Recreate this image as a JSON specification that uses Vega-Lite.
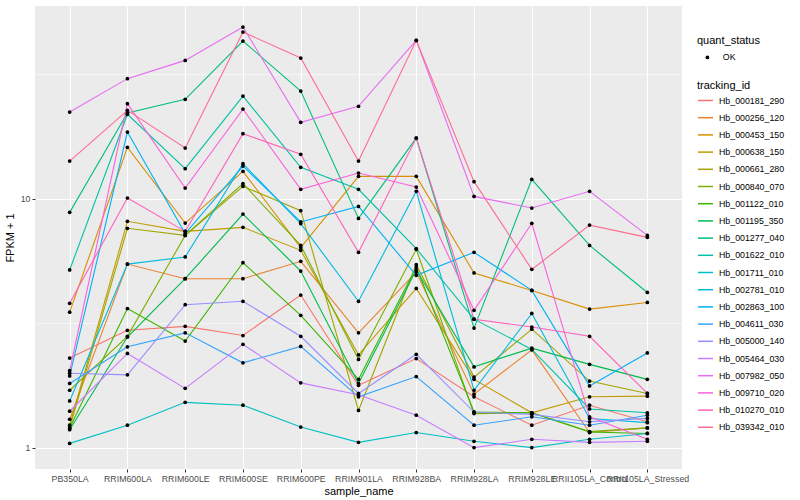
{
  "$schema": "https://vega.github.io/schema/vega-lite/v6.json",
  "width": 647,
  "height": 463,
  "autosize": {"type": "none"},
  "padding": {"left": 35, "top": 6, "right": 118, "bottom": 31},
  "background": "white",
  "config": {
    "font": "Liberation Sans",
    "view": {"fill": "#EBEBEB", "stroke": null},
    "axis": {"domain": false, "gridColor": "#FFFFFF", "labelColor": "#4D4D4D", "labelFontSize": 8.8, "tickColor": "#333333", "tickSize": 3, "titleFontSize": 11, "titleFontWeight": "normal", "titleColor": "#000000"},
    "legend": {"titleFontSize": 11, "titleFontWeight": "normal", "labelFontSize": 8.8, "labelColor": "#000000", "padding": 0}
  },
  "data": {
    "values": [
      {"tracking_id":"Hb_000181_290","sample_name":"PB350LA","fpkm":2.29,"quant_status":"OK"},
      {"tracking_id":"Hb_000181_290","sample_name":"RRIM600LA","fpkm":2.96,"quant_status":"OK"},
      {"tracking_id":"Hb_000181_290","sample_name":"RRIM600LE","fpkm":3.07,"quant_status":"OK"},
      {"tracking_id":"Hb_000181_290","sample_name":"RRIM600SE","fpkm":2.82,"quant_status":"OK"},
      {"tracking_id":"Hb_000181_290","sample_name":"RRIM600PE","fpkm":4.10,"quant_status":"OK"},
      {"tracking_id":"Hb_000181_290","sample_name":"RRIM901LA","fpkm":1.78,"quant_status":"OK"},
      {"tracking_id":"Hb_000181_290","sample_name":"RRIM928BA","fpkm":2.28,"quant_status":"OK"},
      {"tracking_id":"Hb_000181_290","sample_name":"RRIM928LA","fpkm":1.60,"quant_status":"OK"},
      {"tracking_id":"Hb_000181_290","sample_name":"RRIM928LE","fpkm":1.23,"quant_status":"OK"},
      {"tracking_id":"Hb_000181_290","sample_name":"RRII105LA_Control","fpkm":1.48,"quant_status":"OK"},
      {"tracking_id":"Hb_000181_290","sample_name":"RRII105LA_Stressed","fpkm":1.27,"quant_status":"OK"},
      {"tracking_id":"Hb_000256_120","sample_name":"PB350LA","fpkm":1.30,"quant_status":"OK"},
      {"tracking_id":"Hb_000256_120","sample_name":"RRIM600LA","fpkm":5.46,"quant_status":"OK"},
      {"tracking_id":"Hb_000256_120","sample_name":"RRIM600LE","fpkm":4.77,"quant_status":"OK"},
      {"tracking_id":"Hb_000256_120","sample_name":"RRIM600SE","fpkm":4.77,"quant_status":"OK"},
      {"tracking_id":"Hb_000256_120","sample_name":"RRIM600PE","fpkm":5.60,"quant_status":"OK"},
      {"tracking_id":"Hb_000256_120","sample_name":"RRIM901LA","fpkm":2.89,"quant_status":"OK"},
      {"tracking_id":"Hb_000256_120","sample_name":"RRIM928BA","fpkm":5.07,"quant_status":"OK"},
      {"tracking_id":"Hb_000256_120","sample_name":"RRIM928LA","fpkm":1.64,"quant_status":"OK"},
      {"tracking_id":"Hb_000256_120","sample_name":"RRIM928LE","fpkm":2.47,"quant_status":"OK"},
      {"tracking_id":"Hb_000256_120","sample_name":"RRII105LA_Control","fpkm":1.15,"quant_status":"OK"},
      {"tracking_id":"Hb_000256_120","sample_name":"RRII105LA_Stressed","fpkm":1.20,"quant_status":"OK"},
      {"tracking_id":"Hb_000453_150","sample_name":"PB350LA","fpkm":3.50,"quant_status":"OK"},
      {"tracking_id":"Hb_000453_150","sample_name":"RRIM600LA","fpkm":16.07,"quant_status":"OK"},
      {"tracking_id":"Hb_000453_150","sample_name":"RRIM600LE","fpkm":7.98,"quant_status":"OK"},
      {"tracking_id":"Hb_000453_150","sample_name":"RRIM600SE","fpkm":12.87,"quant_status":"OK"},
      {"tracking_id":"Hb_000453_150","sample_name":"RRIM600PE","fpkm":6.36,"quant_status":"OK"},
      {"tracking_id":"Hb_000453_150","sample_name":"RRIM901LA","fpkm":12.29,"quant_status":"OK"},
      {"tracking_id":"Hb_000453_150","sample_name":"RRIM928BA","fpkm":12.29,"quant_status":"OK"},
      {"tracking_id":"Hb_000453_150","sample_name":"RRIM928LA","fpkm":5.03,"quant_status":"OK"},
      {"tracking_id":"Hb_000453_150","sample_name":"RRIM928LE","fpkm":4.28,"quant_status":"OK"},
      {"tracking_id":"Hb_000453_150","sample_name":"RRII105LA_Control","fpkm":3.60,"quant_status":"OK"},
      {"tracking_id":"Hb_000453_150","sample_name":"RRII105LA_Stressed","fpkm":3.83,"quant_status":"OK"},
      {"tracking_id":"Hb_000638_150","sample_name":"PB350LA","fpkm":1.23,"quant_status":"OK"},
      {"tracking_id":"Hb_000638_150","sample_name":"RRIM600LA","fpkm":8.11,"quant_status":"OK"},
      {"tracking_id":"Hb_000638_150","sample_name":"RRIM600LE","fpkm":7.39,"quant_status":"OK"},
      {"tracking_id":"Hb_000638_150","sample_name":"RRIM600SE","fpkm":7.67,"quant_status":"OK"},
      {"tracking_id":"Hb_000638_150","sample_name":"RRIM600PE","fpkm":6.20,"quant_status":"OK"},
      {"tracking_id":"Hb_000638_150","sample_name":"RRIM901LA","fpkm":2.36,"quant_status":"OK"},
      {"tracking_id":"Hb_000638_150","sample_name":"RRIM928BA","fpkm":4.36,"quant_status":"OK"},
      {"tracking_id":"Hb_000638_150","sample_name":"RRIM928LA","fpkm":1.88,"quant_status":"OK"},
      {"tracking_id":"Hb_000638_150","sample_name":"RRIM928LE","fpkm":1.38,"quant_status":"OK"},
      {"tracking_id":"Hb_000638_150","sample_name":"RRII105LA_Control","fpkm":1.60,"quant_status":"OK"},
      {"tracking_id":"Hb_000638_150","sample_name":"RRII105LA_Stressed","fpkm":1.61,"quant_status":"OK"},
      {"tracking_id":"Hb_000661_280","sample_name":"PB350LA","fpkm":1.20,"quant_status":"OK"},
      {"tracking_id":"Hb_000661_280","sample_name":"RRIM600LA","fpkm":7.60,"quant_status":"OK"},
      {"tracking_id":"Hb_000661_280","sample_name":"RRIM600LE","fpkm":7.12,"quant_status":"OK"},
      {"tracking_id":"Hb_000661_280","sample_name":"RRIM600SE","fpkm":11.21,"quant_status":"OK"},
      {"tracking_id":"Hb_000661_280","sample_name":"RRIM600PE","fpkm":8.95,"quant_status":"OK"},
      {"tracking_id":"Hb_000661_280","sample_name":"RRIM901LA","fpkm":1.41,"quant_status":"OK"},
      {"tracking_id":"Hb_000661_280","sample_name":"RRIM928BA","fpkm":5.43,"quant_status":"OK"},
      {"tracking_id":"Hb_000661_280","sample_name":"RRIM928LA","fpkm":1.92,"quant_status":"OK"},
      {"tracking_id":"Hb_000661_280","sample_name":"RRIM928LE","fpkm":2.99,"quant_status":"OK"},
      {"tracking_id":"Hb_000661_280","sample_name":"RRII105LA_Control","fpkm":1.85,"quant_status":"OK"},
      {"tracking_id":"Hb_000661_280","sample_name":"RRII105LA_Stressed","fpkm":1.65,"quant_status":"OK"},
      {"tracking_id":"Hb_000840_070","sample_name":"PB350LA","fpkm":1.70,"quant_status":"OK"},
      {"tracking_id":"Hb_000840_070","sample_name":"RRIM600LA","fpkm":2.80,"quant_status":"OK"},
      {"tracking_id":"Hb_000840_070","sample_name":"RRIM600LE","fpkm":7.12,"quant_status":"OK"},
      {"tracking_id":"Hb_000840_070","sample_name":"RRIM600SE","fpkm":11.49,"quant_status":"OK"},
      {"tracking_id":"Hb_000840_070","sample_name":"RRIM600PE","fpkm":6.49,"quant_status":"OK"},
      {"tracking_id":"Hb_000840_070","sample_name":"RRIM901LA","fpkm":2.26,"quant_status":"OK"},
      {"tracking_id":"Hb_000840_070","sample_name":"RRIM928BA","fpkm":6.26,"quant_status":"OK"},
      {"tracking_id":"Hb_000840_070","sample_name":"RRIM928LA","fpkm":1.37,"quant_status":"OK"},
      {"tracking_id":"Hb_000840_070","sample_name":"RRIM928LE","fpkm":1.38,"quant_status":"OK"},
      {"tracking_id":"Hb_000840_070","sample_name":"RRII105LA_Control","fpkm":1.16,"quant_status":"OK"},
      {"tracking_id":"Hb_000840_070","sample_name":"RRII105LA_Stressed","fpkm":1.20,"quant_status":"OK"},
      {"tracking_id":"Hb_001122_010","sample_name":"PB350LA","fpkm":1.20,"quant_status":"OK"},
      {"tracking_id":"Hb_001122_010","sample_name":"RRIM600LA","fpkm":3.62,"quant_status":"OK"},
      {"tracking_id":"Hb_001122_010","sample_name":"RRIM600LE","fpkm":2.68,"quant_status":"OK"},
      {"tracking_id":"Hb_001122_010","sample_name":"RRIM600SE","fpkm":5.53,"quant_status":"OK"},
      {"tracking_id":"Hb_001122_010","sample_name":"RRIM600PE","fpkm":3.40,"quant_status":"OK"},
      {"tracking_id":"Hb_001122_010","sample_name":"RRIM901LA","fpkm":1.88,"quant_status":"OK"},
      {"tracking_id":"Hb_001122_010","sample_name":"RRIM928BA","fpkm":5.31,"quant_status":"OK"},
      {"tracking_id":"Hb_001122_010","sample_name":"RRIM928LA","fpkm":1.39,"quant_status":"OK"},
      {"tracking_id":"Hb_001122_010","sample_name":"RRIM928LE","fpkm":1.38,"quant_status":"OK"},
      {"tracking_id":"Hb_001122_010","sample_name":"RRII105LA_Control","fpkm":1.155,"quant_status":"OK"},
      {"tracking_id":"Hb_001122_010","sample_name":"RRII105LA_Stressed","fpkm":1.14,"quant_status":"OK"},
      {"tracking_id":"Hb_001195_350","sample_name":"PB350LA","fpkm":1.18,"quant_status":"OK"},
      {"tracking_id":"Hb_001195_350","sample_name":"RRIM600LA","fpkm":2.78,"quant_status":"OK"},
      {"tracking_id":"Hb_001195_350","sample_name":"RRIM600LE","fpkm":4.77,"quant_status":"OK"},
      {"tracking_id":"Hb_001195_350","sample_name":"RRIM600SE","fpkm":8.67,"quant_status":"OK"},
      {"tracking_id":"Hb_001195_350","sample_name":"RRIM600PE","fpkm":5.12,"quant_status":"OK"},
      {"tracking_id":"Hb_001195_350","sample_name":"RRIM901LA","fpkm":1.81,"quant_status":"OK"},
      {"tracking_id":"Hb_001195_350","sample_name":"RRIM928BA","fpkm":5.18,"quant_status":"OK"},
      {"tracking_id":"Hb_001195_350","sample_name":"RRIM928LA","fpkm":2.11,"quant_status":"OK"},
      {"tracking_id":"Hb_001195_350","sample_name":"RRIM928LE","fpkm":2.51,"quant_status":"OK"},
      {"tracking_id":"Hb_001195_350","sample_name":"RRII105LA_Control","fpkm":2.16,"quant_status":"OK"},
      {"tracking_id":"Hb_001195_350","sample_name":"RRII105LA_Stressed","fpkm":1.88,"quant_status":"OK"},
      {"tracking_id":"Hb_001277_040","sample_name":"PB350LA","fpkm":8.81,"quant_status":"OK"},
      {"tracking_id":"Hb_001277_040","sample_name":"RRIM600LA","fpkm":22.08,"quant_status":"OK"},
      {"tracking_id":"Hb_001277_040","sample_name":"RRIM600LE","fpkm":25.05,"quant_status":"OK"},
      {"tracking_id":"Hb_001277_040","sample_name":"RRIM600SE","fpkm":42.94,"quant_status":"OK"},
      {"tracking_id":"Hb_001277_040","sample_name":"RRIM600PE","fpkm":27.05,"quant_status":"OK"},
      {"tracking_id":"Hb_001277_040","sample_name":"RRIM901LA","fpkm":8.33,"quant_status":"OK"},
      {"tracking_id":"Hb_001277_040","sample_name":"RRIM928BA","fpkm":17.51,"quant_status":"OK"},
      {"tracking_id":"Hb_001277_040","sample_name":"RRIM928LA","fpkm":3.02,"quant_status":"OK"},
      {"tracking_id":"Hb_001277_040","sample_name":"RRIM928LE","fpkm":11.95,"quant_status":"OK"},
      {"tracking_id":"Hb_001277_040","sample_name":"RRII105LA_Control","fpkm":6.49,"quant_status":"OK"},
      {"tracking_id":"Hb_001277_040","sample_name":"RRII105LA_Stressed","fpkm":4.20,"quant_status":"OK"},
      {"tracking_id":"Hb_001622_010","sample_name":"PB350LA","fpkm":5.17,"quant_status":"OK"},
      {"tracking_id":"Hb_001622_010","sample_name":"RRIM600LA","fpkm":21.81,"quant_status":"OK"},
      {"tracking_id":"Hb_001622_010","sample_name":"RRIM600LE","fpkm":13.20,"quant_status":"OK"},
      {"tracking_id":"Hb_001622_010","sample_name":"RRIM600SE","fpkm":25.82,"quant_status":"OK"},
      {"tracking_id":"Hb_001622_010","sample_name":"RRIM600PE","fpkm":13.36,"quant_status":"OK"},
      {"tracking_id":"Hb_001622_010","sample_name":"RRIM901LA","fpkm":10.90,"quant_status":"OK"},
      {"tracking_id":"Hb_001622_010","sample_name":"RRIM928BA","fpkm":6.30,"quant_status":"OK"},
      {"tracking_id":"Hb_001622_010","sample_name":"RRIM928LA","fpkm":3.28,"quant_status":"OK"},
      {"tracking_id":"Hb_001622_010","sample_name":"RRIM928LE","fpkm":2.48,"quant_status":"OK"},
      {"tracking_id":"Hb_001622_010","sample_name":"RRII105LA_Control","fpkm":1.43,"quant_status":"OK"},
      {"tracking_id":"Hb_001622_010","sample_name":"RRII105LA_Stressed","fpkm":1.38,"quant_status":"OK"},
      {"tracking_id":"Hb_001711_010","sample_name":"PB350LA","fpkm":1.04,"quant_status":"OK"},
      {"tracking_id":"Hb_001711_010","sample_name":"RRIM600LA","fpkm":1.23,"quant_status":"OK"},
      {"tracking_id":"Hb_001711_010","sample_name":"RRIM600LE","fpkm":1.52,"quant_status":"OK"},
      {"tracking_id":"Hb_001711_010","sample_name":"RRIM600SE","fpkm":1.48,"quant_status":"OK"},
      {"tracking_id":"Hb_001711_010","sample_name":"RRIM600PE","fpkm":1.21,"quant_status":"OK"},
      {"tracking_id":"Hb_001711_010","sample_name":"RRIM901LA","fpkm":1.05,"quant_status":"OK"},
      {"tracking_id":"Hb_001711_010","sample_name":"RRIM928BA","fpkm":1.15,"quant_status":"OK"},
      {"tracking_id":"Hb_001711_010","sample_name":"RRIM928LA","fpkm":1.06,"quant_status":"OK"},
      {"tracking_id":"Hb_001711_010","sample_name":"RRIM928LE","fpkm":1.00,"quant_status":"OK"},
      {"tracking_id":"Hb_001711_010","sample_name":"RRII105LA_Control","fpkm":1.08,"quant_status":"OK"},
      {"tracking_id":"Hb_001711_010","sample_name":"RRII105LA_Stressed","fpkm":1.14,"quant_status":"OK"},
      {"tracking_id":"Hb_002781_010","sample_name":"PB350LA","fpkm":1.54,"quant_status":"OK"},
      {"tracking_id":"Hb_002781_010","sample_name":"RRIM600LA","fpkm":5.46,"quant_status":"OK"},
      {"tracking_id":"Hb_002781_010","sample_name":"RRIM600LE","fpkm":5.83,"quant_status":"OK"},
      {"tracking_id":"Hb_002781_010","sample_name":"RRIM600SE","fpkm":13.82,"quant_status":"OK"},
      {"tracking_id":"Hb_002781_010","sample_name":"RRIM600PE","fpkm":7.94,"quant_status":"OK"},
      {"tracking_id":"Hb_002781_010","sample_name":"RRIM901LA","fpkm":3.87,"quant_status":"OK"},
      {"tracking_id":"Hb_002781_010","sample_name":"RRIM928BA","fpkm":10.70,"quant_status":"OK"},
      {"tracking_id":"Hb_002781_010","sample_name":"RRIM928LA","fpkm":1.70,"quant_status":"OK"},
      {"tracking_id":"Hb_002781_010","sample_name":"RRIM928LE","fpkm":3.46,"quant_status":"OK"},
      {"tracking_id":"Hb_002781_010","sample_name":"RRII105LA_Control","fpkm":1.31,"quant_status":"OK"},
      {"tracking_id":"Hb_002781_010","sample_name":"RRII105LA_Stressed","fpkm":1.26,"quant_status":"OK"},
      {"tracking_id":"Hb_002863_100","sample_name":"PB350LA","fpkm":1.94,"quant_status":"OK"},
      {"tracking_id":"Hb_002863_100","sample_name":"RRIM600LA","fpkm":18.52,"quant_status":"OK"},
      {"tracking_id":"Hb_002863_100","sample_name":"RRIM600LE","fpkm":7.24,"quant_status":"OK"},
      {"tracking_id":"Hb_002863_100","sample_name":"RRIM600SE","fpkm":13.52,"quant_status":"OK"},
      {"tracking_id":"Hb_002863_100","sample_name":"RRIM600PE","fpkm":8.06,"quant_status":"OK"},
      {"tracking_id":"Hb_002863_100","sample_name":"RRIM901LA","fpkm":9.31,"quant_status":"OK"},
      {"tracking_id":"Hb_002863_100","sample_name":"RRIM928BA","fpkm":4.92,"quant_status":"OK"},
      {"tracking_id":"Hb_002863_100","sample_name":"RRIM928LA","fpkm":6.09,"quant_status":"OK"},
      {"tracking_id":"Hb_002863_100","sample_name":"RRIM928LE","fpkm":4.28,"quant_status":"OK"},
      {"tracking_id":"Hb_002863_100","sample_name":"RRII105LA_Control","fpkm":1.77,"quant_status":"OK"},
      {"tracking_id":"Hb_002863_100","sample_name":"RRII105LA_Stressed","fpkm":2.40,"quant_status":"OK"},
      {"tracking_id":"Hb_004611_030","sample_name":"PB350LA","fpkm":1.81,"quant_status":"OK"},
      {"tracking_id":"Hb_004611_030","sample_name":"RRIM600LA","fpkm":2.54,"quant_status":"OK"},
      {"tracking_id":"Hb_004611_030","sample_name":"RRIM600LE","fpkm":2.89,"quant_status":"OK"},
      {"tracking_id":"Hb_004611_030","sample_name":"RRIM600SE","fpkm":2.19,"quant_status":"OK"},
      {"tracking_id":"Hb_004611_030","sample_name":"RRIM600PE","fpkm":2.55,"quant_status":"OK"},
      {"tracking_id":"Hb_004611_030","sample_name":"RRIM901LA","fpkm":1.60,"quant_status":"OK"},
      {"tracking_id":"Hb_004611_030","sample_name":"RRIM928BA","fpkm":1.93,"quant_status":"OK"},
      {"tracking_id":"Hb_004611_030","sample_name":"RRIM928LA","fpkm":1.23,"quant_status":"OK"},
      {"tracking_id":"Hb_004611_030","sample_name":"RRIM928LE","fpkm":1.33,"quant_status":"OK"},
      {"tracking_id":"Hb_004611_030","sample_name":"RRII105LA_Control","fpkm":1.23,"quant_status":"OK"},
      {"tracking_id":"Hb_004611_030","sample_name":"RRII105LA_Stressed","fpkm":1.35,"quant_status":"OK"},
      {"tracking_id":"Hb_005000_140","sample_name":"PB350LA","fpkm":1.99,"quant_status":"OK"},
      {"tracking_id":"Hb_005000_140","sample_name":"RRIM600LA","fpkm":1.96,"quant_status":"OK"},
      {"tracking_id":"Hb_005000_140","sample_name":"RRIM600LE","fpkm":3.75,"quant_status":"OK"},
      {"tracking_id":"Hb_005000_140","sample_name":"RRIM600SE","fpkm":3.87,"quant_status":"OK"},
      {"tracking_id":"Hb_005000_140","sample_name":"RRIM600PE","fpkm":2.80,"quant_status":"OK"},
      {"tracking_id":"Hb_005000_140","sample_name":"RRIM901LA","fpkm":1.65,"quant_status":"OK"},
      {"tracking_id":"Hb_005000_140","sample_name":"RRIM928BA","fpkm":2.37,"quant_status":"OK"},
      {"tracking_id":"Hb_005000_140","sample_name":"RRIM928LA","fpkm":1.39,"quant_status":"OK"},
      {"tracking_id":"Hb_005000_140","sample_name":"RRIM928LE","fpkm":1.36,"quant_status":"OK"},
      {"tracking_id":"Hb_005000_140","sample_name":"RRII105LA_Control","fpkm":1.27,"quant_status":"OK"},
      {"tracking_id":"Hb_005000_140","sample_name":"RRII105LA_Stressed","fpkm":1.31,"quant_status":"OK"},
      {"tracking_id":"Hb_005464_030","sample_name":"PB350LA","fpkm":1.40,"quant_status":"OK"},
      {"tracking_id":"Hb_005464_030","sample_name":"RRIM600LA","fpkm":2.39,"quant_status":"OK"},
      {"tracking_id":"Hb_005464_030","sample_name":"RRIM600LE","fpkm":1.73,"quant_status":"OK"},
      {"tracking_id":"Hb_005464_030","sample_name":"RRIM600SE","fpkm":2.60,"quant_status":"OK"},
      {"tracking_id":"Hb_005464_030","sample_name":"RRIM600PE","fpkm":1.82,"quant_status":"OK"},
      {"tracking_id":"Hb_005464_030","sample_name":"RRIM901LA","fpkm":1.63,"quant_status":"OK"},
      {"tracking_id":"Hb_005464_030","sample_name":"RRIM928BA","fpkm":1.35,"quant_status":"OK"},
      {"tracking_id":"Hb_005464_030","sample_name":"RRIM928LA","fpkm":1.00,"quant_status":"OK"},
      {"tracking_id":"Hb_005464_030","sample_name":"RRIM928LE","fpkm":1.08,"quant_status":"OK"},
      {"tracking_id":"Hb_005464_030","sample_name":"RRII105LA_Control","fpkm":1.05,"quant_status":"OK"},
      {"tracking_id":"Hb_005464_030","sample_name":"RRII105LA_Stressed","fpkm":1.06,"quant_status":"OK"},
      {"tracking_id":"Hb_007982_050","sample_name":"PB350LA","fpkm":22.28,"quant_status":"OK"},
      {"tracking_id":"Hb_007982_050","sample_name":"RRIM600LA","fpkm":30.34,"quant_status":"OK"},
      {"tracking_id":"Hb_007982_050","sample_name":"RRIM600LE","fpkm":35.92,"quant_status":"OK"},
      {"tracking_id":"Hb_007982_050","sample_name":"RRIM600SE","fpkm":48.89,"quant_status":"OK"},
      {"tracking_id":"Hb_007982_050","sample_name":"RRIM600PE","fpkm":20.25,"quant_status":"OK"},
      {"tracking_id":"Hb_007982_050","sample_name":"RRIM901LA","fpkm":23.49,"quant_status":"OK"},
      {"tracking_id":"Hb_007982_050","sample_name":"RRIM928BA","fpkm":43.22,"quant_status":"OK"},
      {"tracking_id":"Hb_007982_050","sample_name":"RRIM928LA","fpkm":10.21,"quant_status":"OK"},
      {"tracking_id":"Hb_007982_050","sample_name":"RRIM928LE","fpkm":9.17,"quant_status":"OK"},
      {"tracking_id":"Hb_007982_050","sample_name":"RRII105LA_Control","fpkm":10.70,"quant_status":"OK"},
      {"tracking_id":"Hb_007982_050","sample_name":"RRII105LA_Stressed","fpkm":7.12,"quant_status":"OK"},
      {"tracking_id":"Hb_009710_020","sample_name":"PB350LA","fpkm":2.04,"quant_status":"OK"},
      {"tracking_id":"Hb_009710_020","sample_name":"RRIM600LA","fpkm":24.08,"quant_status":"OK"},
      {"tracking_id":"Hb_009710_020","sample_name":"RRIM600LE","fpkm":11.03,"quant_status":"OK"},
      {"tracking_id":"Hb_009710_020","sample_name":"RRIM600SE","fpkm":22.90,"quant_status":"OK"},
      {"tracking_id":"Hb_009710_020","sample_name":"RRIM600PE","fpkm":10.90,"quant_status":"OK"},
      {"tracking_id":"Hb_009710_020","sample_name":"RRIM901LA","fpkm":12.67,"quant_status":"OK"},
      {"tracking_id":"Hb_009710_020","sample_name":"RRIM928BA","fpkm":11.13,"quant_status":"OK"},
      {"tracking_id":"Hb_009710_020","sample_name":"RRIM928LA","fpkm":3.56,"quant_status":"OK"},
      {"tracking_id":"Hb_009710_020","sample_name":"RRIM928LE","fpkm":7.96,"quant_status":"OK"},
      {"tracking_id":"Hb_009710_020","sample_name":"RRII105LA_Control","fpkm":1.33,"quant_status":"OK"},
      {"tracking_id":"Hb_009710_020","sample_name":"RRII105LA_Stressed","fpkm":1.08,"quant_status":"OK"},
      {"tracking_id":"Hb_010270_010","sample_name":"PB350LA","fpkm":3.80,"quant_status":"OK"},
      {"tracking_id":"Hb_010270_010","sample_name":"RRIM600LA","fpkm":10.06,"quant_status":"OK"},
      {"tracking_id":"Hb_010270_010","sample_name":"RRIM600LE","fpkm":7.39,"quant_status":"OK"},
      {"tracking_id":"Hb_010270_010","sample_name":"RRIM600SE","fpkm":18.24,"quant_status":"OK"},
      {"tracking_id":"Hb_010270_010","sample_name":"RRIM600PE","fpkm":15.07,"quant_status":"OK"},
      {"tracking_id":"Hb_010270_010","sample_name":"RRIM901LA","fpkm":6.09,"quant_status":"OK"},
      {"tracking_id":"Hb_010270_010","sample_name":"RRIM928BA","fpkm":17.51,"quant_status":"OK"},
      {"tracking_id":"Hb_010270_010","sample_name":"RRIM928LA","fpkm":3.28,"quant_status":"OK"},
      {"tracking_id":"Hb_010270_010","sample_name":"RRIM928LE","fpkm":3.05,"quant_status":"OK"},
      {"tracking_id":"Hb_010270_010","sample_name":"RRII105LA_Control","fpkm":2.80,"quant_status":"OK"},
      {"tracking_id":"Hb_010270_010","sample_name":"RRII105LA_Stressed","fpkm":1.65,"quant_status":"OK"},
      {"tracking_id":"Hb_039342_010","sample_name":"PB350LA","fpkm":14.16,"quant_status":"OK"},
      {"tracking_id":"Hb_039342_010","sample_name":"RRIM600LA","fpkm":22.63,"quant_status":"OK"},
      {"tracking_id":"Hb_039342_010","sample_name":"RRIM600LE","fpkm":15.97,"quant_status":"OK"},
      {"tracking_id":"Hb_039342_010","sample_name":"RRIM600SE","fpkm":46.69,"quant_status":"OK"},
      {"tracking_id":"Hb_039342_010","sample_name":"RRIM600PE","fpkm":36.71,"quant_status":"OK"},
      {"tracking_id":"Hb_039342_010","sample_name":"RRIM901LA","fpkm":14.16,"quant_status":"OK"},
      {"tracking_id":"Hb_039342_010","sample_name":"RRIM928BA","fpkm":43.22,"quant_status":"OK"},
      {"tracking_id":"Hb_039342_010","sample_name":"RRIM928LA","fpkm":11.70,"quant_status":"OK"},
      {"tracking_id":"Hb_039342_010","sample_name":"RRIM928LE","fpkm":5.20,"quant_status":"OK"},
      {"tracking_id":"Hb_039342_010","sample_name":"RRII105LA_Control","fpkm":7.83,"quant_status":"OK"},
      {"tracking_id":"Hb_039342_010","sample_name":"RRII105LA_Stressed","fpkm":6.99,"quant_status":"OK"}
    ]
  },
  "encoding": {
    "x": {
      "field": "sample_name", "type": "nominal",
      "sort": ["PB350LA","RRIM600LA","RRIM600LE","RRIM600SE","RRIM600PE","RRIM901LA","RRIM928BA","RRIM928LA","RRIM928LE","RRII105LA_Control","RRII105LA_Stressed"],
      "scale": {"type": "point", "padding": 0.6},
      "axis": {"title": "sample_name", "labelAngle": 0, "labelOverlap": false, "grid": true, "gridWidth": 1.1, "labelPadding": 2, "titlePadding": 3}
    },
    "y": {
      "field": "fpkm", "type": "quantitative",
      "scale": {"type": "log", "domain": [0.8206, 59.4], "nice": false, "zero": false},
      "axis": {
        "title": "FPKM + 1", "values": [1, 3.1623, 10, 31.623], "format": "~g",
        "labelExpr": "datum.value == 1 || datum.value == 10 ? datum.label : ''",
        "grid": true,
        "gridWidth": {"condition": {"test": "datum.value == 1 || datum.value == 10", "value": 1.1}, "value": 0.55},
        "tickOpacity": {"condition": {"test": "datum.value == 1 || datum.value == 10", "value": 1}, "value": 0},
        "titlePadding": 5, "labelPadding": 2
      }
    }
  },
  "layer": [
    {
      "mark": {"type": "line", "strokeWidth": 1.1},
      "encoding": {
        "color": {
          "field": "tracking_id", "type": "nominal",
          "scale": {
            "domain": ["Hb_000181_290","Hb_000256_120","Hb_000453_150","Hb_000638_150","Hb_000661_280","Hb_000840_070","Hb_001122_010","Hb_001195_350","Hb_001277_040","Hb_001622_010","Hb_001711_010","Hb_002781_010","Hb_002863_100","Hb_004611_030","Hb_005000_140","Hb_005464_030","Hb_007982_050","Hb_009710_020","Hb_010270_010","Hb_039342_010"],
            "range": ["#F8766D","#EA8331","#D89000","#C09B00","#A3A500","#7CAE00","#39B600","#00BB4E","#00BF7D","#00C1A3","#00BFC4","#00BAE0","#00B0F6","#35A2FF","#9590FF","#C77CFF","#E76BF3","#FA62DB","#FF62BC","#FF6C91"]
          },
          "legend": {"title": "tracking_id", "orient": "none", "legendX": 662, "legendY": 74, "titlePadding": 1, "symbolType": "stroke", "symbolSize": 225, "symbolStrokeWidth": 1.5, "rowPadding": 3.2, "labelOffset": 5}
        }
      }
    },
    {
      "mark": {"type": "point", "filled": true, "color": "black", "size": 14, "opacity": 1},
      "encoding": {
        "shape": {
          "field": "quant_status", "type": "nominal",
          "scale": {"range": ["circle"]},
          "legend": {"title": "quant_status", "orient": "none", "legendX": 662, "legendY": 29, "titlePadding": 7, "symbolSize": 14, "symbolOffset": 6, "symbolFillColor": "black", "symbolStrokeColor": "black", "labelOffset": 11}
        }
      }
    }
  ]
}
